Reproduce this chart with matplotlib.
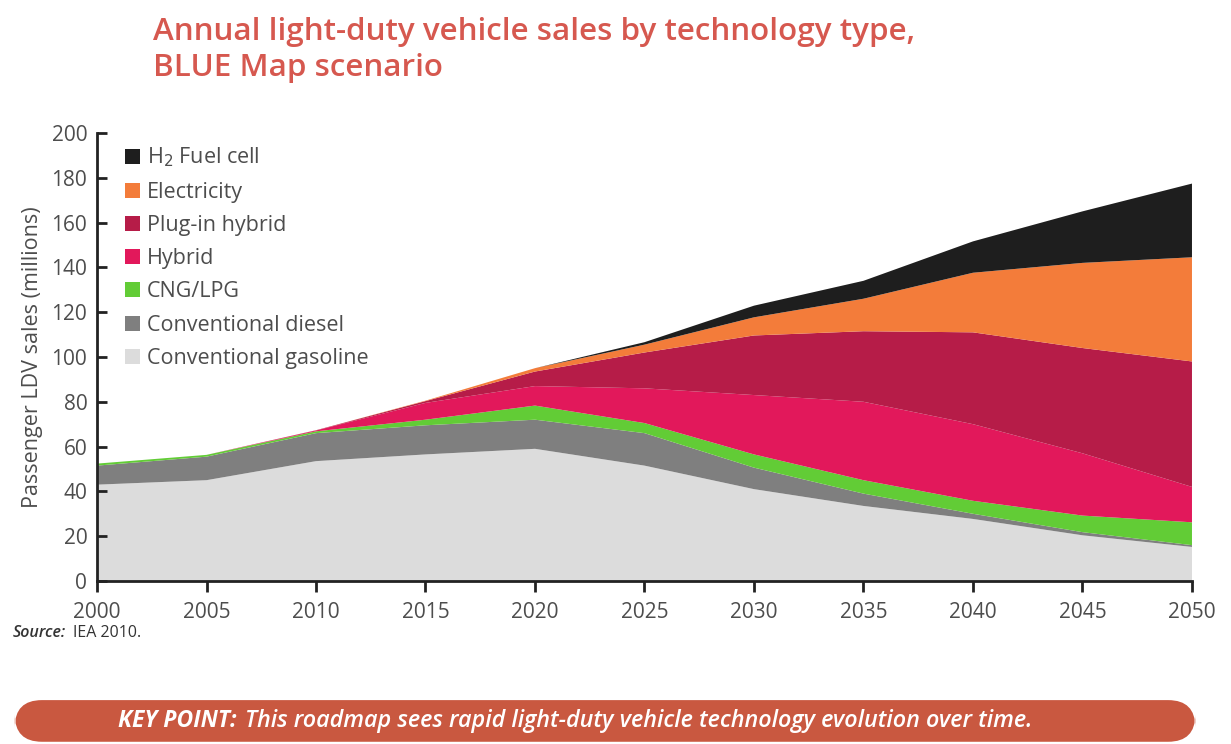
import numpy as np
import matplotlib
matplotlib.use("Agg")
import matplotlib.pyplot as plt
from matplotlib.patches import Patch, FancyBboxPatch

years = [2000, 2005, 2010, 2015, 2020, 2025, 2030, 2035, 2040, 2045, 2050]

# sales in millions
gasoline = [43.0, 45.0, 53.5, 56.5, 59.0, 51.5, 41.0, 33.5, 27.7, 20.4, 15.2]
diesel = [8.5, 10.5, 12.5, 13.0, 13.0, 14.5, 9.6, 5.5, 2.3, 1.4, 0.8]
cng_lpg = [0.9, 0.8, 0.8, 2.5, 6.3, 4.5, 5.9, 6.0, 5.8, 7.4, 10.2]
hybrid = [0.0, 0.0, 0.4, 7.5, 8.7, 15.5, 26.5, 35.0, 34.2, 27.8, 15.8]
plugin_hybrid = [0.0, 0.0, 0.1, 0.8, 6.5, 16.0, 26.6, 31.5, 41.0, 47.0, 56.0]
electricity = [0.0, 0.0, 0.0, 0.2, 1.5, 3.5, 8.1, 14.5, 26.6, 38.0, 46.5]
h2_fuel_cell = [0.0, 0.0, 0.0, 0.0, 0.0, 1.1, 5.2, 8.0, 14.0, 23.0, 32.9]

labels = ["Conventional gasoline", "Conventional diesel", "CNG/LPG", "Hybrid",
          "Plug-in hybrid", "Electricity", r"H$_2$ Fuel cell"]
colors = ["#dcdcdc", "#7f7f7f", "#62cc36", "#e2185b", "#b61c48", "#f37c3a", "#1e1e1e"]

plt.rcParams['font.family'] = ['Open Sans', 'DejaVu Sans']
grey_text = "#4d4d4d"

fig = plt.figure(figsize=(12.31, 7.44), dpi=100)
ax = fig.add_axes([0.0788, 0.2191, 0.8895, 0.6022])

series = [gasoline, diesel, cng_lpg, hybrid, plugin_hybrid, electricity, h2_fuel_cell]
ax.stackplot(years, *series, colors=colors, linewidth=0)

ax.set_xlim(2000, 2050)
ax.set_ylim(0, 200)
ax.set_xticks(years)
ax.set_yticks(np.arange(0, 201, 20))
for s in ["top", "right"]:
    ax.spines[s].set_visible(False)
for s in ["left", "bottom"]:
    ax.spines[s].set_linewidth(2)
    ax.spines[s].set_color("#222222")
ax.tick_params(axis="y", direction="in", length=7, width=2, labelsize=15,
               labelcolor=grey_text, color="#222222", pad=7)
ax.tick_params(axis="x", direction="out", length=8, width=2, labelsize=15,
               labelcolor=grey_text, color="#222222", pad=7)
ax.set_ylabel("Passenger LDV sales (millions)", fontsize=15.5, color=grey_text, labelpad=6)

handles = [Patch(facecolor=c, edgecolor="none") for c in colors]
leg = ax.legend(handles[::-1], labels[::-1], loc="upper left", bbox_to_anchor=(0.012, 1.005),
                frameon=False, fontsize=15.5, labelspacing=0.57, handlelength=0.7,
                handleheight=0.7, handletextpad=0.3, borderaxespad=0.3)
for t in leg.get_texts():
    t.set_color(grey_text)

title_color = "#d6584f"
fig.text(0.124, 0.957, "Annual light-duty vehicle sales by technology type,",
         fontsize=22.6, weight="semibold", color=title_color, va="center", ha="left")
fig.text(0.124, 0.908, "BLUE Map scenario", fontsize=22.6, weight="semibold",
         color=title_color, va="center", ha="left")

fig.text(0.010, 0.149, "Source:", fontsize=11.5, style="italic", weight="semibold",
         color="#333333", va="center", ha="left")
fig.text(0.059, 0.149, "IEA 2010.", fontsize=11.5, color="#333333", va="center", ha="left")

box = FancyBboxPatch((0.012, 0.003), 0.959, 0.056, boxstyle="round,pad=0,rounding_size=0.022",
                     transform=fig.transFigure, facecolor="#c95840", edgecolor="none",
                     mutation_aspect=1231 / 744)
fig.patches.append(box)
fig.text(0.096, 0.031, "KEY POINT:", fontsize=16.5, color="white", weight="bold",
         style="italic", va="center", ha="left")
fig.text(0.199, 0.031, "This roadmap sees rapid light-duty vehicle technology evolution over time.",
         fontsize=16.8, color="white", weight="semibold", style="italic", va="center", ha="left")

fig.savefig("out.png", dpi=100)
